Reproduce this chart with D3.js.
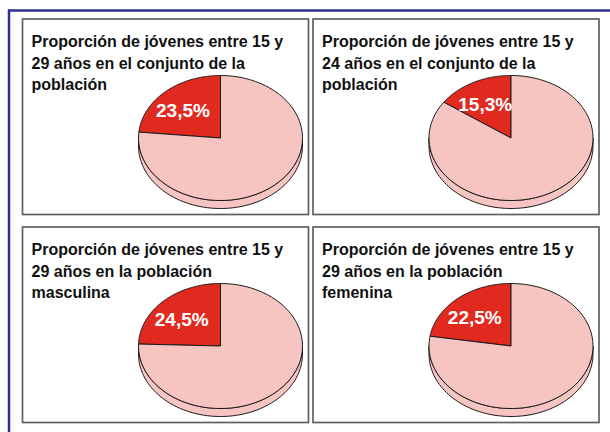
<!DOCTYPE html>
<html><head><meta charset="utf-8">
<script src="https://cdn.jsdelivr.net/npm/d3@7"></script>
<style>html,body{margin:0;padding:0;background:#fff;overflow:hidden}</style>
</head><body>
<script>
// ---- data ----
const titles = [
  ["Proporción de jóvenes entre 15 y", "29 años en el conjunto de la", "población"],
  ["Proporción de jóvenes entre 15 y", "24 años en el conjunto de la", "población"],
  ["Proporción de jóvenes entre 15 y", "29 años en la población", "masculina"],
  ["Proporción de jóvenes entre 15 y", "29 años en la población", "femenina"]
];
const youthShare = [23.5, 15.3, 24.5, 22.5];
const valueLabels = ["23,5%", "15,3%", "24,5%", "22,5%"];
const sliceNames = ["jóvenes", "resto"];

// ---- layout ----
const W = 610, H = 432;
const svg = d3.select("body").append("svg").attr("width", W).attr("height", H)
  .style("font-family", "'Liberation Sans', Arial, sans-serif");

// outer blue frame
svg.append("line").attr("x1", 8).attr("x2", W).attr("y1", 10.5).attr("y2", 10.5)
  .attr("stroke", "#2e2e92").attr("stroke-width", 2.5);
svg.append("line").attr("x1", 9).attr("x2", 9).attr("y1", 9.5).attr("y2", H)
  .attr("stroke", "#2e2e92").attr("stroke-width", 2.5);

const colX = [22.5, 313];
const rowY = [19, 227];
const panelW = 286, panelH = 195.5;
const colors = d3.scaleOrdinal().domain(sliceNames).range(["#e0291f", "#f6c5c1"]);
const rx = 82, ry = 62.5, depth = 8;

function ellPt(cx, cy, a, dy) {
  return [cx + rx * Math.sin(a), cy - ry * Math.cos(a) + (dy || 0)];
}

youthShare.forEach((p, i) => {
  const px = colX[i % 2], py = rowY[Math.floor(i / 2)];
  const g = svg.append("g").attr("transform", `translate(${px},${py})`);
  g.append("rect").attr("x", 0).attr("y", 0).attr("width", panelW).attr("height", panelH)
    .attr("fill", "#fff").attr("stroke", "#606060").attr("stroke-width", 1.7);

  const t = g.append("text").attr("font-weight", "bold").attr("font-size", 16).attr("fill", "#111");
  titles[i].forEach((line, k) => {
    t.append("tspan").attr("x", 9).attr("y", 28 + k * 21.5).text(line);
  });

  const cx = 198, cy = 119;
  const data = [p, 100 - p];
  const start = -2 * Math.PI * p / 100;
  const arcs = d3.pie().sort(null).value(d => d).startAngle(start).endAngle(start + 2 * Math.PI)(data);

  const line = d3.line();
  // side (front part only: angles between PI/2 and 3PI/2)
  arcs.forEach((a, j) => {
    const s = a.startAngle, e = a.endAngle;
    [[s, e], [s + 2 * Math.PI, e + 2 * Math.PI]].forEach(([s0, e0]) => {
      const lo = Math.max(s0, Math.PI / 2), hi = Math.min(e0, 3 * Math.PI / 2);
      if (hi > lo) {
        const n = 80;
        const top = d3.range(n + 1).map(k => ellPt(cx, cy, lo + (hi - lo) * k / n));
        const bot = d3.range(n + 1).map(k => ellPt(cx, cy, hi - (hi - lo) * k / n, depth));
        g.append("path").attr("d", line(top.concat(bot)) + "Z")
          .attr("fill", colors(sliceNames[j])).attr("stroke", "#1a1a1a").attr("stroke-width", 1);
      }
    });
  });
  // top faces
  arcs.forEach((a, j) => {
    const n = 120;
    const pts = [[cx, cy]].concat(d3.range(n + 1).map(k =>
      ellPt(cx, cy, a.startAngle + (a.endAngle - a.startAngle) * k / n)));
    g.append("path").attr("d", line(pts) + "Z")
      .attr("fill", colors(sliceNames[j])).attr("stroke", "#1a1a1a").attr("stroke-width", 1)
      .attr("stroke-linejoin", "round");
  });
  // label
  const mid = (arcs[0].startAngle + arcs[0].endAngle) / 2;
  const lx = cx + rx * 0.68 * Math.sin(mid);
  const ly = cy - ry * 0.6 * Math.cos(mid);
  g.append("text").attr("x", lx).attr("y", ly).attr("dy", "0.35em")
    .attr("text-anchor", "middle").attr("font-weight", "bold").attr("font-size", 19)
    .attr("fill", "#fff").text(valueLabels[i]);
});
</script>
</body></html>
